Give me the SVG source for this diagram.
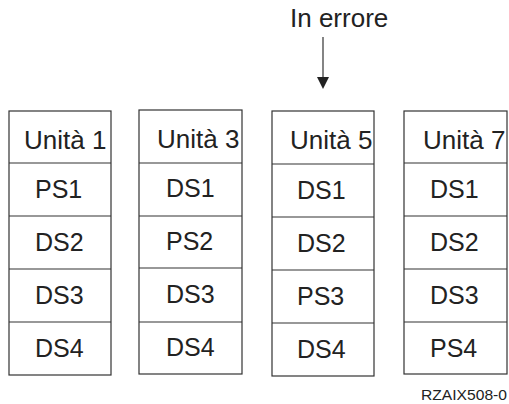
<svg xmlns="http://www.w3.org/2000/svg" width="509" height="404" viewBox="0 0 509 404">
  <style>
    .box { fill: #ffffff; stroke: #333333; stroke-width: 1.2; }
    .sep { stroke: #333333; stroke-width: 1.2; }
    .t { font-family: "Liberation Sans", Arial, sans-serif; font-size: 25px; fill: #222222; }
    .h { font-family: "Liberation Sans", Arial, sans-serif; font-size: 26px; fill: #222222; }
    .small { font-family: "Liberation Sans", Arial, sans-serif; font-size: 14px; fill: #222222; }
  </style>
  <defs>
    <marker id="arrowhead" markerWidth="14" markerHeight="12" refX="0" refY="6" orient="auto" markerUnits="userSpaceOnUse">
      <path d="M0,0 L12,6 L0,12 Z" fill="#222222"/>
    </marker>
  </defs>
  <rect width="509" height="404" fill="#ffffff"/>

  <!-- Unit 1 -->
  <g id="unit1">
    <rect class="box" x="9" y="111" width="102" height="264"/>
    <line class="sep" x1="9" y1="163" x2="111" y2="163"/>
    <line class="sep" x1="9" y1="216" x2="111" y2="216"/>
    <line class="sep" x1="9" y1="269" x2="111" y2="269"/>
    <line class="sep" x1="9" y1="322" x2="111" y2="322"/>
    <text class="h" x="24" y="149">Unità 1</text>
    <text class="t" x="35" y="198">PS1</text>
    <text class="t" x="35" y="251">DS2</text>
    <text class="t" x="35" y="304">DS3</text>
    <text class="t" x="35" y="357">DS4</text>
  </g>

  <!-- Unit 3 -->
  <g id="unit3">
    <rect class="box" x="139" y="110" width="103" height="264"/>
    <line class="sep" x1="139" y1="163" x2="242" y2="163"/>
    <line class="sep" x1="139" y1="216" x2="242" y2="216"/>
    <line class="sep" x1="139" y1="268" x2="242" y2="268"/>
    <line class="sep" x1="139" y1="322" x2="242" y2="322"/>
    <text class="h" x="157" y="148">Unità 3</text>
    <text class="t" x="166" y="197">DS1</text>
    <text class="t" x="166" y="250">PS2</text>
    <text class="t" x="166" y="303">DS3</text>
    <text class="t" x="166" y="356">DS4</text>
  </g>

  <!-- Unit 5 -->
  <g id="unit5">
    <rect class="box" x="272" y="111" width="102" height="265"/>
    <line class="sep" x1="272" y1="164" x2="374" y2="164"/>
    <line class="sep" x1="272" y1="217" x2="374" y2="217"/>
    <line class="sep" x1="272" y1="270" x2="374" y2="270"/>
    <line class="sep" x1="272" y1="323" x2="374" y2="323"/>
    <text class="h" x="290" y="149">Unità 5</text>
    <text class="t" x="297" y="199">DS1</text>
    <text class="t" x="297" y="252">DS2</text>
    <text class="t" x="297" y="305">PS3</text>
    <text class="t" x="297" y="358">DS4</text>
  </g>

  <!-- Unit 7 -->
  <g id="unit7">
    <rect class="box" x="404" y="111" width="103" height="263"/>
    <line class="sep" x1="404" y1="163" x2="507" y2="163"/>
    <line class="sep" x1="404" y1="216" x2="507" y2="216"/>
    <line class="sep" x1="404" y1="269" x2="507" y2="269"/>
    <line class="sep" x1="404" y1="322" x2="507" y2="322"/>
    <text class="h" x="423" y="149">Unità 7</text>
    <text class="t" x="430" y="198">DS1</text>
    <text class="t" x="430" y="251">DS2</text>
    <text class="t" x="430" y="304">DS3</text>
    <text class="t" x="430" y="357">PS4</text>
  </g>

  <!-- Failure label -->
  <g id="label-errore">
    <text class="h" x="290" y="27">In errore</text>
  </g>

  <!-- Connectors -->
  <g id="connectors">
    <line x1="323" y1="37" x2="323" y2="77" stroke="#333333" stroke-width="1.2" marker-end="url(#arrowhead)"/>
  </g>

  <text class="small" x="421" y="400" textLength="86" lengthAdjust="spacingAndGlyphs">RZAIX508-0</text>
</svg>
